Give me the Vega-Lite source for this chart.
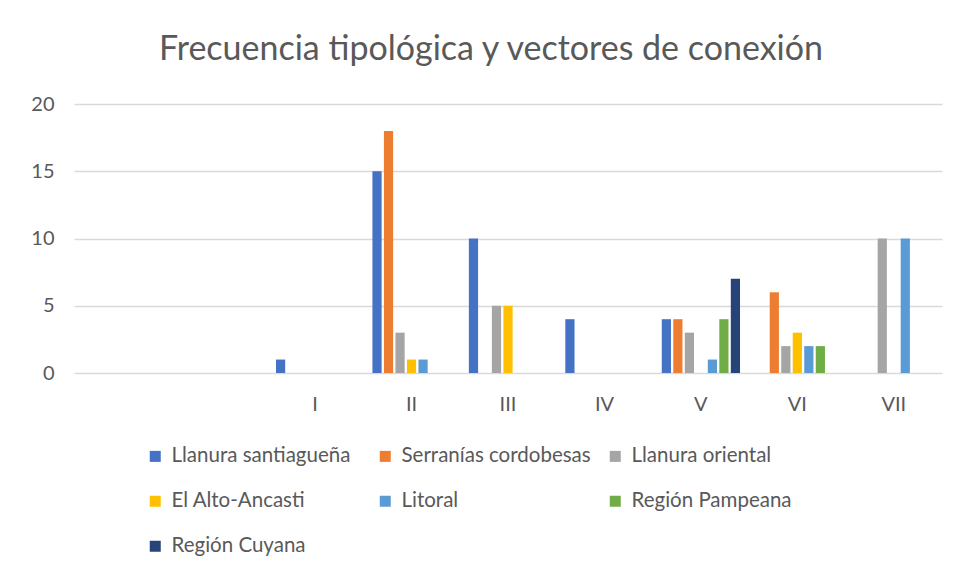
{
  "$schema": "https://vega.github.io/schema/vega-lite/v6.json",
  "width": 868,
  "height": 269,
  "autosize": {"type": "none"},
  "padding": {"left": 74, "top": 104, "right": 18, "bottom": 203},
  "background": "white",
  "title": {
    "text": "Frecuencia tipológica y vectores de conexión",
    "font": "Lato",
    "fontSize": 34,
    "fontWeight": "normal",
    "color": "#595959",
    "anchor": "middle",
    "dx": -17,
    "offset": 27
  },
  "data": {
    "values": [
      {"tipo": "I", "region": "Llanura santiagueña", "valor": 1},
      {"tipo": "II", "region": "Llanura santiagueña", "valor": 15},
      {"tipo": "II", "region": "Serranías cordobesas", "valor": 18},
      {"tipo": "II", "region": "Llanura oriental", "valor": 3},
      {"tipo": "II", "region": "El Alto-Ancasti", "valor": 1},
      {"tipo": "II", "region": "Litoral", "valor": 1},
      {"tipo": "III", "region": "Llanura santiagueña", "valor": 10},
      {"tipo": "III", "region": "Llanura oriental", "valor": 5},
      {"tipo": "III", "region": "El Alto-Ancasti", "valor": 5},
      {"tipo": "IV", "region": "Llanura santiagueña", "valor": 4},
      {"tipo": "V", "region": "Llanura santiagueña", "valor": 4},
      {"tipo": "V", "region": "Serranías cordobesas", "valor": 4},
      {"tipo": "V", "region": "Llanura oriental", "valor": 3},
      {"tipo": "V", "region": "Litoral", "valor": 1},
      {"tipo": "V", "region": "Región Pampeana", "valor": 4},
      {"tipo": "V", "region": "Región Cuyana", "valor": 7},
      {"tipo": "VI", "region": "Serranías cordobesas", "valor": 6},
      {"tipo": "VI", "region": "Llanura oriental", "valor": 2},
      {"tipo": "VI", "region": "El Alto-Ancasti", "valor": 3},
      {"tipo": "VI", "region": "Litoral", "valor": 2},
      {"tipo": "VI", "region": "Región Pampeana", "valor": 2},
      {"tipo": "VII", "region": "Llanura oriental", "valor": 10},
      {"tipo": "VII", "region": "Litoral", "valor": 10}
    ]
  },
  "mark": {"type": "bar"},
  "encoding": {
    "x": {
      "field": "tipo",
      "type": "nominal",
      "scale": {"domain": ["_a", "_b", "I", "II", "III", "IV", "V", "VI", "VII"], "paddingInner": 0, "paddingOuter": 0},
      "axis": {
        "title": null,
        "labelAngle": 0,
        "labelExpr": "indexof(datum.value, '_') == 0 ? '' : datum.value",
        "labelFont": "Lato",
        "labelFontSize": 20,
        "labelColor": "#595959",
        "labelPadding": 21,
        "ticks": false,
        "domain": false
      }
    },
    "xOffset": {
      "field": "region",
      "type": "nominal",
      "scale": {
        "domain": ["Llanura santiagueña", "Serranías cordobesas", "Llanura oriental", "El Alto-Ancasti", "Litoral", "Región Pampeana", "Región Cuyana"],
        "paddingInner": 0.2,
        "paddingOuter": 0.79
      }
    },
    "y": {
      "field": "valor",
      "type": "quantitative",
      "scale": {"domain": [0, 20]},
      "axis": {
        "title": null,
        "values": [0, 5, 10, 15, 20],
        "labelFont": "Lato",
        "labelFontSize": 20,
        "labelColor": "#595959",
        "labelPadding": 20,
        "ticks": false,
        "domain": false,
        "gridColor": "#D9D9D9",
        "gridWidth": 1.5
      }
    },
    "color": {
      "field": "region",
      "type": "nominal",
      "scale": {
        "domain": ["Llanura santiagueña", "Serranías cordobesas", "Llanura oriental", "El Alto-Ancasti", "Litoral", "Región Pampeana", "Región Cuyana"],
        "range": ["#4472C4", "#ED7D31", "#A5A5A5", "#FFC000", "#5B9BD5", "#70AD47", "#264478"]
      },
      "legend": {
        "title": null,
        "orient": "none",
        "legendX": 71,
        "legendY": 342,
        "direction": "horizontal",
        "columns": 3,
        "gridAlign": "all",
        "columnPadding": 14,
        "rowPadding": 24,
        "symbolType": "square",
        "symbolSize": 121,
        "symbolStrokeWidth": 0,
        "symbolOffset": 0,
        "labelFont": "Lato",
        "labelFontSize": 20.5,
        "labelColor": "#595959",
        "labelOffset": 6,
        "labelLimit": 400
      }
    }
  },
  "config": {
    "view": {"stroke": null}
  }
}
